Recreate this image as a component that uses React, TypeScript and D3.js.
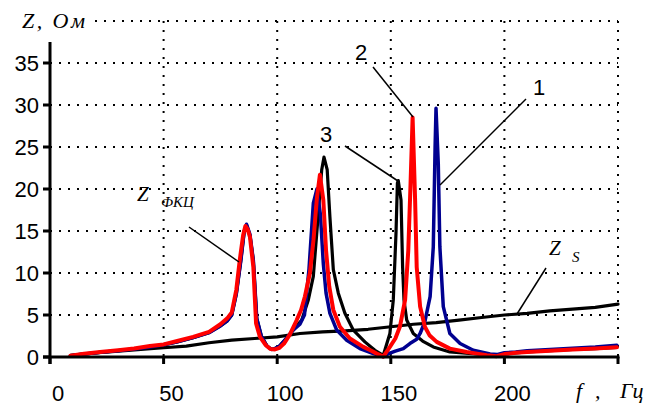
import React from "react";
import * as d3 from "d3";

const yTicks = [0, 5, 10, 15, 20, 25, 30, 35];
const yGrid = [5, 10, 15, 20, 25, 30, 35, 40];
const xTicks = [0, 50, 100, 150, 200, 250];
const xTickLabels = ["0", "50", "100", "150", "200"];

// Series 1 (blue)
const f1 = [9, 15, 22, 30, 37, 44, 50, 56, 63, 70, 75, 78, 80, 82, 84, 85.5, 86.5, 88, 89.5, 91, 93, 95.5, 97.5, 99, 101, 104, 107, 110, 112, 114, 115.9, 117.5, 119, 120.3, 121.5, 123.2, 126.2, 130.6, 136.4, 142.3, 146.7, 149, 152, 155.5, 158.4, 161.4, 162.9, 165, 167.3, 168.7, 169.5, 169.9, 170.9, 171.6, 173.1, 176, 180.5, 186.3, 193.7, 197, 200, 205, 210, 220, 230, 240, 249.5];
const z1 = [0.15, 0.35, 0.55, 0.75, 0.95, 1.2, 1.45, 1.8, 2.3, 2.9, 3.7, 4.3, 5.0, 7.5, 11.5, 15.0, 15.8, 14.6, 11.5, 4.6, 2.5, 1.3, 0.9, 1.0, 1.3, 2.2, 3.2, 3.9, 5.0, 10.5, 18.3, 20.0, 17.0, 11.1, 7.6, 5.2, 3.2, 2.0, 1.0, 0.4, 0.05, 0.4, 0.7, 1.0, 1.6, 2.1, 2.8, 4.2, 7.2, 13.1, 25.0, 29.6, 23.0, 13.1, 6.0, 2.8, 1.6, 0.8, 0.35, 0.3, 0.5, 0.6, 0.75, 0.9, 1.05, 1.2, 1.4];

// Series 2 (red)
const f2 = [9, 15, 22, 30, 37, 44, 50, 56, 63, 70, 75, 78, 80, 82, 83.5, 85, 86, 87, 88, 89.5, 90.7, 92.4, 95, 97, 99, 101, 103, 105.6, 108.6, 110.5, 112.2, 114.4, 116, 117.5, 118.8, 120.3, 121.5, 122.9, 124.7, 127.6, 132, 137.9, 141, 143.8, 146.7, 149.6, 152, 154, 156.3, 157.7, 158.7, 159.6, 160.7, 161.4, 162.9, 165, 167, 170.2, 176, 183.4, 188, 192.2, 196.6, 200, 205, 210, 220, 230, 240, 249.5];
const z2 = [0.15, 0.4, 0.6, 0.8, 1.0, 1.3, 1.5, 1.9, 2.4, 3.0, 3.9, 4.6, 5.3, 8.0, 11.5, 14.5, 15.6, 15.2, 14.3, 10.7, 4.0, 2.4, 1.4, 0.95, 0.9, 1.1, 1.6, 2.7, 4.4, 5.6, 7.2, 10.0, 14.0, 19.0, 21.7, 18.7, 12.7, 8.4, 5.6, 3.6, 2.2, 1.2, 0.8, 0.4, 0.05, 1.2, 2.2, 3.6, 6.8, 12.7, 20.7, 28.5, 18.7, 10.7, 6.0, 3.6, 2.6, 1.8, 1.0, 0.6, 0.4, 0.2, 0.1, 0.35, 0.5, 0.6, 0.75, 0.9, 1.0, 1.15];

// Series 3 (black)
const f3 = [9, 15, 22, 30, 37, 44, 50, 56, 63, 70, 75, 78, 80, 82, 84, 85.5, 86.5, 88, 89.5, 91, 93, 95.5, 97.5, 99, 101, 104, 107, 110.8, 113.7, 115.9, 117.4, 119.6, 120.6, 122, 123.2, 124.7, 126.9, 129.8, 133.5, 138.6, 143, 146.7, 149.6, 151.1, 152.3, 152.9, 153.3, 154.5, 155.2, 155.8, 157, 159.9, 164, 168.7, 176, 183, 190, 196, 200, 210, 220, 230, 240, 249.5];
const z3 = [0.15, 0.35, 0.55, 0.75, 0.95, 1.2, 1.45, 1.8, 2.3, 2.9, 3.7, 4.3, 5.0, 7.5, 11.5, 15.0, 15.7, 14.5, 11.5, 4.6, 2.5, 1.3, 0.9, 1.0, 1.3, 2.2, 3.2, 4.4, 6.8, 9.6, 14.7, 22.3, 23.8, 22.3, 16.7, 10.4, 7.6, 5.2, 3.2, 1.8, 0.8, 0.2, 2.8, 6.8, 14.8, 20.7, 21.0, 18.7, 10.7, 6.8, 4.4, 2.8, 1.9, 1.2, 0.6, 0.45, 0.3, 0.1, 0.35, 0.6, 0.75, 0.9, 1.0, 1.15];

// Z_s
const fs = [9, 20, 30, 40, 50, 60, 70, 80, 90, 100, 110, 120, 130, 140, 150, 160, 170, 180, 190, 200, 210, 220, 230, 240, 250];
const zs = [0.2, 0.5, 0.7, 0.9, 1.1, 1.3, 1.7, 2.0, 2.2, 2.4, 2.8, 3.0, 3.1, 3.3, 3.6, 3.9, 4.1, 4.4, 4.7, 5.0, 5.2, 5.5, 5.7, 5.9, 6.3];

const x = d3.scaleLinear().domain([0, 250]).range([50, 618]);
const y = d3.scaleLinear().domain([0, 40]).range([357, 21]);

const line = d3
  .line<[number, number]>()
  .x((d) => x(d[0]))
  .y((d) => y(d[1]));

const zip = (a: number[], b: number[]): [number, number][] =>
  a.map((v, i) => [v, b[i]] as [number, number]);

const sans = "'Liberation Sans', Arial, sans-serif";
const serif = "'Liberation Serif', 'Times New Roman', serif";

export default function App() {
  const dot = { stroke: "#000", strokeWidth: 2, strokeDasharray: "2 7", fill: "none" };
  return (
    <svg
      width={652}
      height={405}
      style={{ position: "absolute", left: 0, top: 0, background: "#fff" }}
    >
      {/* grid */}
      {yGrid.map((v) => (
        <line key={"hy" + v} x1={v === 40 ? 95 : x(0)} x2={x(250)} y1={y(v)} y2={y(v)} {...dot} />
      ))}
      {xTicks.slice(1).map((v) => (
        <line key={"vx" + v} x1={x(v)} x2={x(v)} y1={y(40)} y2={y(0)} {...dot} />
      ))}

      {/* curves */}
      <g fill="none" strokeLinejoin="round" strokeLinecap="round">
        <path d={line(zip(fs, zs)) || ""} stroke="#000" strokeWidth={3.2} />
        <path d={line(zip(f3, z3)) || ""} stroke="#000" strokeWidth={3.2} />
        <path d={line(zip(f1, z1)) || ""} stroke="#000090" strokeWidth={3.5} />
        <path d={line(zip(f2, z2)) || ""} stroke="#ff0000" strokeWidth={4} />
      </g>

      {/* axes */}
      <line x1={x(0)} x2={x(0)} y1={42} y2={364} stroke="#000" strokeWidth={3} />
      <line x1={43} x2={x(250) + 1.5} y1={y(0)} y2={y(0)} stroke="#000" strokeWidth={3} />
      {yTicks.map((v) => (
        <line key={"yt" + v} x1={43} x2={x(0)} y1={y(v)} y2={y(v)} stroke="#000" strokeWidth={3} />
      ))}
      {xTicks.map((v) => (
        <line key={"xt" + v} x1={x(v)} x2={x(v)} y1={y(0)} y2={364} stroke="#000" strokeWidth={3} />
      ))}

      {/* tick labels */}
      {yTicks.map((v) => (
        <text key={"yl" + v} x={39} y={y(v) + 8} textAnchor="end" fontFamily={sans} fontSize={22} fill="#000">
          {v}
        </text>
      ))}
      {xTickLabels.map((t, i) => (
        <text key={"xl" + t} x={x(xTicks[i]) + 8} y={401} textAnchor="middle" fontFamily={sans} fontSize={22} fill="#000">
          {t}
        </text>
      ))}

      {/* axis titles */}
      <text x={22} y={28} fontFamily={serif} fontStyle="italic" fontSize={22} textLength={63} lengthAdjust="spacing" fill="#000">
        Z, Ом
      </text>
      <text x={576} y={398} fontFamily={serif} fontStyle="italic" fontSize={22} fill="#000">f</text>
      <text x={595} y={398} fontFamily={serif} fontStyle="italic" fontSize={22} fill="#000">,</text>
      <text x={620} y={398} fontFamily={serif} fontStyle="italic" fontSize={22} fill="#000">Гц</text>

      {/* annotations */}
      <g stroke="#000" strokeWidth={1.5}>
        <line x1={373} y1={67} x2={413} y2={117} />
        <line x1={526} y1={99} x2={440} y2={185} />
        <line x1={345} y1={146} x2={398} y2={181} />
        <line x1={189} y1={227} x2={239} y2={262} />
        <line x1={546} y1={268} x2={517} y2={314} />
      </g>
      <text x={361} y={60} textAnchor="middle" fontFamily={sans} fontSize={22} fill="#000">2</text>
      <text x={539} y={95} textAnchor="middle" fontFamily={sans} fontSize={22} fill="#000">1</text>
      <text x={326} y={142} textAnchor="middle" fontFamily={sans} fontSize={22} fill="#000">3</text>

      <text x={137} y={201} fontFamily={serif} fontStyle="italic" fontSize={21} fill="#000">Z</text>
      <text x={161} y={207} fontFamily={serif} fontStyle="italic" fontSize={15} fill="#000">ФКЦ</text>
      <text x={549} y={255} fontFamily={serif} fontStyle="italic" fontSize={21} fill="#000">Z</text>
      <text x={572} y={262} fontFamily={serif} fontStyle="italic" fontSize={15} fill="#000">S</text>
    </svg>
  );
}
